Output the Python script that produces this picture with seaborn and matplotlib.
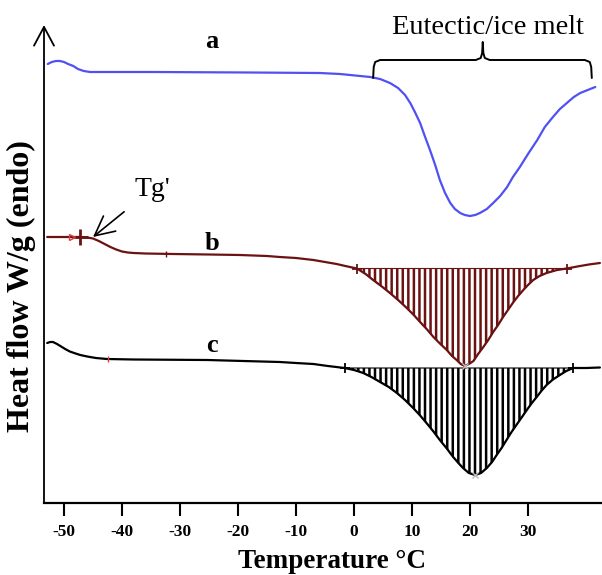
import numpy as np
import matplotlib
matplotlib.use("Agg")
import matplotlib.pyplot as plt
import seaborn as sns

# DSC traces (temperature in °C, heat flow in arbitrary W/g offsets)
temp_a = [-52.8, -52.1, -51.4, -50.7, -50.0, -49.3, -48.4, -47.6, -46.6, -45.5,
          -35.0, -18.0, -5.9, -2.4, 0.2, 2.8, 4.5, 6.2, 7.6, 8.8, 9.7, 10.5, 11.4,
          12.2, 13.1, 14.0, 14.8, 15.7, 16.6, 17.4, 18.3, 19.1, 20.0, 20.9, 21.7,
          22.9, 24.0, 25.2, 26.4, 27.4, 28.6, 30.0, 31.6, 32.9, 34.3, 35.5, 36.7,
          37.9, 39.0, 40.3, 41.6]
flow_a = [4.39, 4.41, 4.42, 4.42, 4.41, 4.39, 4.37, 4.34, 4.32, 4.31,
          4.31, 4.305, 4.30, 4.29, 4.275, 4.26, 4.24, 4.20, 4.15, 4.08, 4.00, 3.91, 3.80,
          3.67, 3.53, 3.38, 3.23, 3.10, 3.00, 2.94, 2.90, 2.88, 2.87, 2.88, 2.90,
          2.94, 3.00, 3.07, 3.16, 3.26, 3.36, 3.49, 3.63, 3.76, 3.86, 3.94, 4.00,
          4.06, 4.10, 4.13, 4.16]

temp_b = [-52.9, -48.6, -47.2, -46.0, -45.0, -44.0, -43.0, -42.0, -41.0, -40.0,
          -39.0, -38.0, -36.0, -31.2, -25.0, -19.7, -15.0, -12.8, -10.0, -7.0, -5.0,
          -3.0, -1.5, 0.5, 2.0, 3.3, 4.8, 6.2, 7.7, 9.1, 10.3, 11.4, 12.6, 13.7, 14.9,
          16.0, 16.9, 17.7, 18.4, 19.1, 19.8, 20.6, 21.4, 22.3, 23.2, 24.0, 24.9,
          25.7, 26.6, 27.5, 28.3, 29.2, 30.0, 30.9, 32.0, 33.2, 35.0, 36.7, 38.5,
          40.5, 42.4]
flow_b = [2.66, 2.66, 2.66, 2.655, 2.645, 2.62, 2.59, 2.56, 2.535, 2.515,
          2.505, 2.50, 2.495, 2.49, 2.485, 2.48, 2.47, 2.46, 2.45, 2.43, 2.41,
          2.39, 2.37, 2.345, 2.29, 2.23, 2.165, 2.10, 2.025, 1.95, 1.88, 1.81, 1.735,
          1.66, 1.59, 1.53, 1.47, 1.43, 1.39, 1.37, 1.39, 1.42, 1.49, 1.56, 1.635,
          1.71, 1.785, 1.86, 1.935, 2.01, 2.07, 2.13, 2.18, 2.23, 2.27, 2.30, 2.33,
          2.345, 2.365, 2.385, 2.40]

temp_c = [-52.9, -52.4, -51.9, -51.2, -50.5, -49.8, -49.0, -48.0, -47.2, -46.0,
          -44.5, -42.6, -38.0, -25.3, -12.8, -10.0, -7.0, -4.5, -1.6, 0.0, 1.6, 3.0,
          4.5, 6.0, 7.4, 8.8, 10.2, 11.4, 12.5, 13.7, 14.8, 16.0, 17.1, 18.0, 18.8,
          19.8, 20.9, 21.9, 22.9, 23.8, 24.6, 25.5, 26.3, 27.1, 28.0, 28.9, 29.8,
          30.6, 31.5, 32.3, 33.2, 34.3, 35.5, 36.6, 37.8, 40.0, 42.4]
flow_c = [1.60, 1.61, 1.61, 1.59, 1.565, 1.54, 1.515, 1.495, 1.48, 1.465,
          1.45, 1.44, 1.435, 1.43, 1.41, 1.40, 1.39, 1.37, 1.35, 1.33, 1.30, 1.26,
          1.21, 1.16, 1.10, 1.03, 0.95, 0.875, 0.80, 0.715, 0.63, 0.545, 0.46, 0.40,
          0.35, 0.30, 0.28, 0.30, 0.35, 0.41, 0.48, 0.555, 0.63, 0.705, 0.78, 0.855,
          0.93, 0.995, 1.06, 1.12, 1.18, 1.235, 1.28, 1.32, 1.35, 1.35, 1.355]

# integration limits of the melt peaks and their baselines
peak_b = (0.5, 36.7, 2.345)
peak_c = (-1.6, 37.8, 1.35)

tick_values = [-50, -40, -30, -20, -10, 0, 10, 20, 30]

col_a = "#5050F5"
col_b = "#6B1212"
col_c = "#000000"

sns.set_style("white")
plt.rcParams["font.family"] = ["Liberation Serif", "DejaVu Serif"]
plt.rcParams["hatch.linewidth"] = 1.8
plt.rcParams["text.color"] = "black"
plt.rcParams["axes.labelcolor"] = "black"
plt.rcParams["xtick.color"] = "black"

fig = plt.figure(figsize=(6.02, 5.75), dpi=100)
ax = fig.add_axes([44 / 602, 72 / 575, 558 / 602, 478 / 575])

sns.lineplot(x=temp_a, y=flow_a, color=col_a, linewidth=1.6, ax=ax)
sns.lineplot(x=temp_b, y=flow_b, color=col_b, linewidth=1.6, ax=ax)
sns.lineplot(x=temp_c, y=flow_c, color=col_c, linewidth=1.6, ax=ax)

# hatched peak areas
for tx, fy, (t0, t1, base), col in [(temp_b, flow_b, peak_b, col_b),
                                    (temp_c, flow_c, peak_c, col_c)]:
    tx = np.array(tx)
    fy = np.array(fy)
    m = (tx >= t0) & (tx <= t1)
    ax.fill_between(tx[m], fy[m], base, facecolor="white", edgecolor=col,
                    hatch="|||", linewidth=0.8)
    ax.plot([t0, t1], [base, base], marker="+", linestyle="none", color=col,
            markersize=7, markeredgewidth=1.3)
    ax.plot(tx[m][np.argmin(fy[m])], fy[m].min(), marker="x", color="#bbbbbb",
            markersize=4, markeredgewidth=1)

# Tg' markers on trace b
ax.plot(temp_b[2], flow_b[2], marker="+", color=col_b, markersize=11, markeredgewidth=2)
ax.plot(-32.4, 2.49, marker="|", color=col_b, markersize=5)
ax.plot(temp_b[1], flow_b[1], marker=">", color="#e04040", markersize=4, fillstyle="none")
ax.plot(-42.4, 1.44, marker="|", color="#e04040", markersize=5)

ax.set_xlim(-53.45, 42.76)
ax.set_ylim(0, 4.78)
ax.set_xticks(tick_values)
ax.set_xticklabels([str(v) for v in tick_values], fontweight="bold", fontsize=12.5)
ax.set_yticks([])
ax.tick_params(axis="x", direction="out", length=9, width=1.5, pad=6, bottom=True)

for s in ["top", "right", "left"]:
    ax.spines[s].set_visible(False)
ax.spines["bottom"].set_linewidth(1.6)
ax.spines["bottom"].set_color("black")

# y axis arrow
ax.annotate("", xy=(0, 1.0), xytext=(0, 0), xycoords="axes fraction",
            arrowprops=dict(arrowstyle="->,head_length=0.75,head_width=0.4",
                            color="black", lw=1.3, mutation_scale=18,
                            shrinkA=0, shrinkB=0), annotation_clip=False)

ax.set_xlabel("Temperature °C", fontsize=19.5, fontweight="bold")
ax.xaxis.set_label_coords(0.516, -0.123)
ax.xaxis.label.set_va("center")
ax.set_ylabel("Heat flow W/g (endo)", fontsize=23, fontweight="bold")
ax.yaxis.set_label_coords(-0.04, 0.454)
ax.yaxis.label.set_va("center")

# curve labels
for lbl, yy in [("a", 4.61), ("b", 2.60), ("c", 1.57)]:
    ax.text(-24.5, yy, lbl, fontsize=19, fontweight="bold", ha="center", va="center")

# Tg' annotation
ax.annotate("Tg'", xy=(-45.0, 2.66), xytext=(-34.8, 3.14), fontsize=20,
            ha="center", va="center",
            arrowprops=dict(arrowstyle="->,head_length=0.7,head_width=0.35",
                            color="black", lw=1.2, mutation_scale=20,
                            shrinkA=8, shrinkB=0))

# brace over the eutectic/ice melt
b0, b1, bc = 3.3, 41.0, 22.2
yb, ye, yt = 4.43, 4.25, 4.61
r = 1.2
bx = [b0, b0 + 0.1, b0 + 0.35, b0 + r, bc - r, bc - 0.35, bc - 0.1, bc,
      bc + 0.1, bc + 0.35, bc + r, b1 - r, b1 - 0.35, b1 - 0.1, b1]
by = [ye, yb - 0.07, yb - 0.02, yb, yb, yb + 0.02, yb + 0.07, yt,
      yb + 0.07, yb + 0.02, yb, yb, yb - 0.02, yb - 0.07, ye]
ax.plot(bx, by, color="black", linewidth=1.4, clip_on=False)
ax.text(bc + 0.9, 4.76, "Eutectic/ice melt", fontsize=20.5, ha="center", va="center")

plt.savefig("out.png", dpi=100)
